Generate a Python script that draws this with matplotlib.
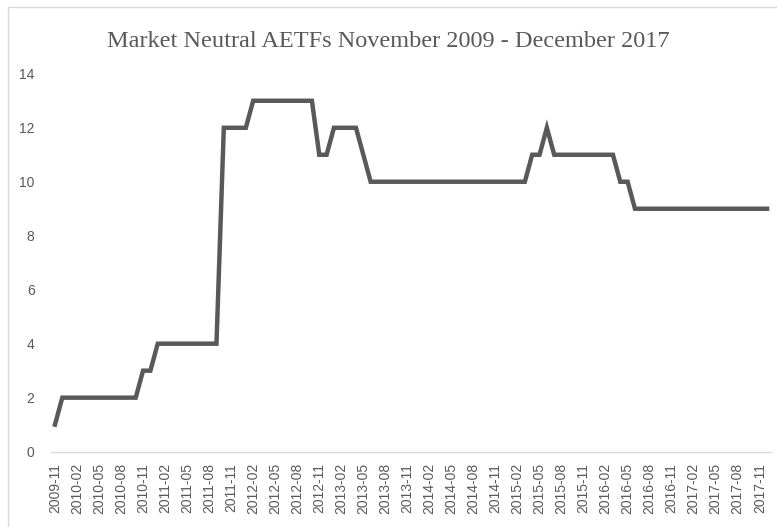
import numpy as np
import pandas as pd
import matplotlib
matplotlib.use("Agg")
import matplotlib.pyplot as plt
from matplotlib.patches import Rectangle

# monthly count of market neutral AETFs, 2009-11 .. 2017-12
months = pd.date_range("2009-11-01", "2017-12-01", freq="MS").strftime("%Y-%m").tolist()
counts = [1,
          2, 2, 2, 2, 2, 2, 2, 2, 2, 2, 2,
          3, 3,
          4, 4, 4, 4, 4, 4, 4, 4, 4,
          12, 12, 12, 12,
          13, 13, 13, 13, 13, 13, 13, 13, 13,
          11, 11,
          12, 12, 12, 12,
          11,
          10, 10, 10, 10, 10, 10, 10, 10, 10, 10, 10,
          10, 10, 10, 10, 10, 10, 10, 10, 10, 10, 10,
          11, 11,
          12,
          11, 11, 11, 11, 11, 11, 11, 11, 11,
          10, 10,
          9, 9, 9, 9, 9, 9, 9, 9, 9, 9, 9, 9, 9, 9, 9, 9, 9, 9, 9]
title = "Market Neutral AETFs November 2009 - December 2017"

GREY = "#595959"

fig = plt.figure(figsize=(7.77, 5.27), dpi=100)
ax = fig.add_axes([0.066, 0.143, 0.926, 0.717])

x = np.arange(len(months))
ax.plot(x, counts, color=GREY, linewidth=3.2, solid_joinstyle="miter")

ax.set_xlim(-0.5, len(months) - 0.5)
ax.set_ylim(0, 14)
ax.set_yticks(range(0, 15, 2))
ax.set_xticks(x[::3])
ax.set_xticklabels(months[::3], rotation=90, fontsize=10, color=GREY,
                   family="Liberation Sans")
for lab in ax.get_yticklabels():
    lab.set_family("Liberation Sans")
ax.tick_params(axis="y", length=0, pad=12, labelsize=10, labelcolor=GREY)
ax.tick_params(axis="x", length=0, pad=8)

for side in ["top", "right", "left"]:
    ax.spines[side].set_visible(False)
ax.spines["bottom"].set_color("#d9d9d9")
ax.spines["bottom"].set_linewidth(1.0)

fig.text(0.5, 0.922, title, ha="center", va="center", fontsize=17.5,
         color=GREY, family="Liberation Serif")

# light chart-area border like the spreadsheet export
fig.patches.append(Rectangle((8 / 777, -0.1), 1.2, 1.1 - 7 / 527,
                             transform=fig.transFigure, fill=False,
                             edgecolor="#d9d9d9", linewidth=1.0))

fig.savefig("out.png", dpi=100)
